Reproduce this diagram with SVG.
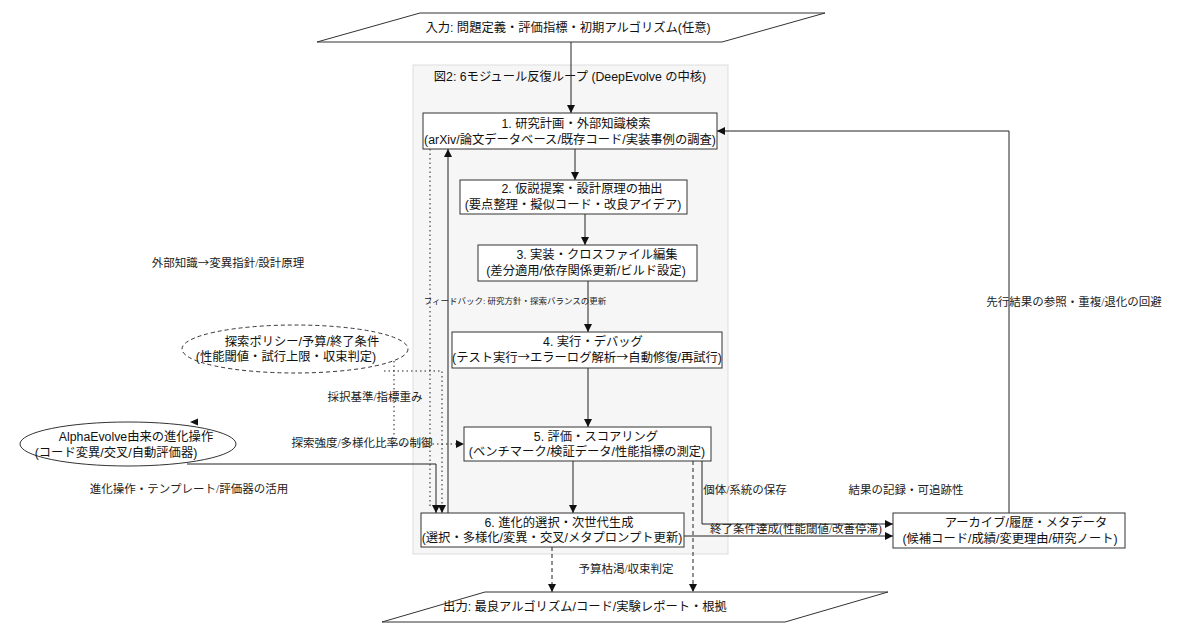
<svg xmlns="http://www.w3.org/2000/svg" width="1200" height="640" viewBox="0 0 1200 640">
<defs>
<marker id="ah" viewBox="0 0 10 10" refX="10" refY="5" markerWidth="8" markerHeight="8" markerUnits="userSpaceOnUse" orient="auto"><path d="M0,0 L10,5 L0,10 z" fill="#111"/></marker>
<style>
.nt{font-family:"Liberation Sans","Noto Sans CJK JP",sans-serif;font-size:12.3px;fill:#111;text-anchor:middle}
.el{font-family:"Liberation Serif","Noto Sans CJK JP",serif;font-size:11.5px;fill:#222;text-anchor:middle}
.ar{font-family:"Noto Sans CJK JP",sans-serif}
.box{fill:#fff;stroke:#333;stroke-width:1}
.e{fill:none;stroke:#222;stroke-width:1}
.dot{stroke-dasharray:1.5 3}
.dash{stroke-dasharray:4 3}
</style>
</defs>
<rect width="1200" height="640" fill="#fff"/>
<g id="cluster">
<rect x="413" y="65" width="315" height="489" fill="#f6f6f6" stroke="#ddd"/>
<text class="nt" x="570" y="81">図2: 6モジュール反復ループ (DeepEvolve の中核)</text>
</g>
<g id="connectors">
<path class="e" d="M571,42 V113" marker-end="url(#ah)"/>
<path class="e" d="M575,149 V180" marker-end="url(#ah)"/>
<path class="e" d="M585,214 V245" marker-end="url(#ah)"/>
<path class="e" d="M588,281 V332" marker-end="url(#ah)"/>
<path class="e" d="M588,368 V427" marker-end="url(#ah)"/>
<path class="e" d="M573,461 V513" marker-end="url(#ah)"/>
<path class="e" d="M448,513 V149" marker-end="url(#ah)"/>
<path class="e dot" d="M430,149 V507"/>
<path class="e dot" d="M384,371 H442 V513" marker-end="url(#ah)"/>
<path class="e dot" d="M394,361 V444 H464" marker-end="url(#ah)"/>
<path class="e" d="M187,464 H436 V513" marker-end="url(#ah)"/>
<path d="M190,422 L198,418.5 L198,425.5 z" fill="#111"/>
<path class="e" d="M702,461 V524 H893" marker-end="url(#ah)"/>
<path class="e" d="M684,536 H893" marker-end="url(#ah)"/>
<path class="e dash" d="M693,461 V592" marker-end="url(#ah)"/>
<path class="e dash" d="M552,547 V592" marker-end="url(#ah)"/>
<path class="e" d="M1009,513 V131 H717" marker-end="url(#ah)"/>
<text class="el" x="228" y="267">外部知識<tspan class="ar">→</tspan>変異指針/設計原理</text>
<text class="el" x="515" y="304" style="font-size:8.5px">フィードバック: 研究方針・探索バランスの更新</text>
<text class="el" x="375" y="401">採択基準/指標重み</text>
<text class="el" x="362" y="447">探索強度/多様化比率の制御</text>
<text class="el" x="189" y="493">進化操作・テンプレート/評価器の活用</text>
<text class="el" x="745" y="494">個体/系統の保存</text>
<text class="el" x="906" y="494">結果の記録・可追跡性</text>
<text class="el" x="796" y="533">終了条件達成(性能閾値/改善停滞)</text>
<text class="el" x="626" y="573">予算枯渇/収束判定</text>
<text class="el" x="1074" y="306">先行結果の参照・重複/退化の回避</text>
</g>
<g id="input">
<polygon class="box" points="420,13 825,13 722,42 317,42"/>
<text class="nt" x="568" y="32">入力: 問題定義・評価指標・初期アルゴリズム(任意)</text>
</g>
<g id="n1">
<rect class="box" x="423" y="113" width="294" height="36"/>
<text class="nt" x="576" y="128">1. 研究計画・外部知識検索</text>
<text class="nt" x="570" y="144">(arXiv/論文データベース/既存コード/実装事例の調査)</text>
</g>
<g id="n2">
<rect class="box" x="460" y="180" width="227" height="34"/>
<text class="nt" x="582" y="193">2. 仮説提案・設計原理の抽出</text>
<text class="nt" x="573" y="209">(要点整理・擬似コード・改良アイデア)</text>
</g>
<g id="n3">
<rect class="box" x="478" y="245" width="219" height="36"/>
<text class="nt" x="597" y="259">3. 実装・クロスファイル編集</text>
<text class="nt" x="586" y="275">(差分適用/依存関係更新/ビルド設定)</text>
</g>
<g id="n4">
<rect class="box" x="452" y="332" width="270" height="36"/>
<text class="nt" x="593" y="346">4. 実行・デバッグ</text>
<text class="nt" x="587" y="362">(テスト実行<tspan class="ar">→</tspan>エラーログ解析<tspan class="ar">→</tspan>自動修復/再試行)</text>
</g>
<g id="n5">
<rect class="box" x="464" y="427" width="247" height="34"/>
<text class="nt" x="596" y="441">5. 評価・スコアリング</text>
<text class="nt" x="587" y="456">(ベンチマーク/検証データ/性能指標の測定)</text>
</g>
<g id="n6">
<rect class="box" x="421" y="513" width="263" height="34"/>
<text class="nt" x="559" y="527">6. 進化的選択・次世代生成</text>
<text class="nt" x="552" y="542">(選択・多様化/変異・交叉/メタプロンプト更新)</text>
</g>
<g id="archive">
<rect class="box" x="893" y="513" width="232" height="35"/>
<text class="nt" x="1026" y="527">アーカイブ/履歴・メタデータ</text>
<text class="nt" x="1010" y="543">(候補コード/成績/変更理由/研究ノート)</text>
</g>
<g id="policy">
<ellipse cx="295" cy="349" rx="113" ry="24" fill="#fff" stroke="#333" stroke-dasharray="4 3"/>
<text class="nt" x="302" y="346">探索ポリシー/予算/終了条件</text>
<text class="nt" x="286" y="361">(性能閾値・試行上限・収束判定)</text>
</g>
<g id="alpha">
<ellipse cx="128" cy="444" rx="108" ry="22" fill="#fff" stroke="#333"/>
<text class="nt" x="136" y="441">AlphaEvolve由来の進化操作</text>
<text class="nt" x="116" y="457">(コード変異/交叉/自動評価器)</text>
</g>
<g id="output">
<polygon class="box" points="485,592 888,592 785,622 382,622"/>
<text class="nt" x="585" y="611">出力: 最良アルゴリズム/コード/実験レポート・根拠</text>
</g>
</svg>
